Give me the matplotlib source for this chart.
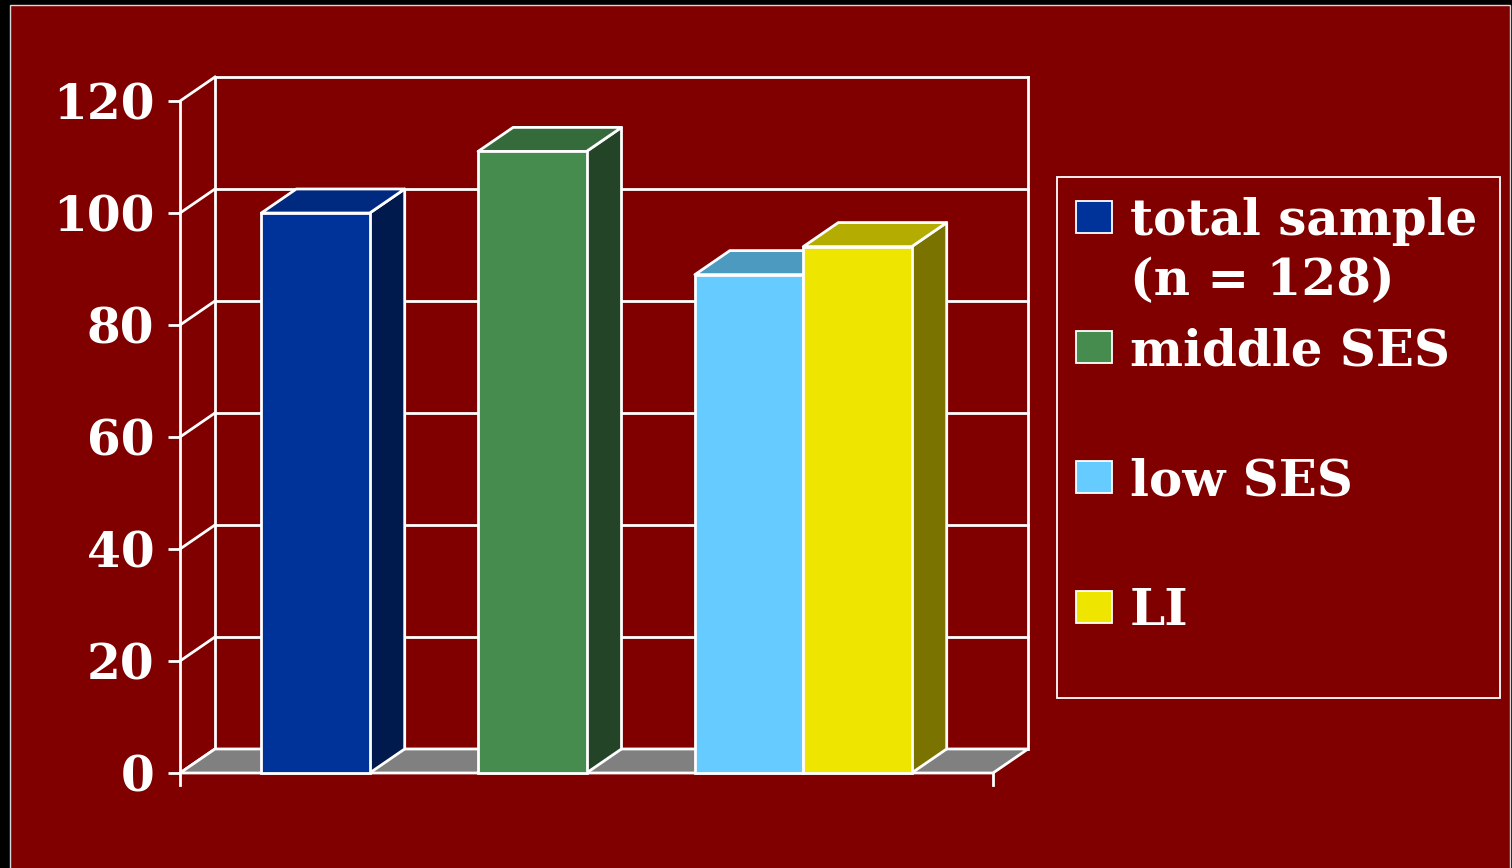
import matplotlib
matplotlib.use('Agg')
import matplotlib.pyplot as plt
from matplotlib.patches import Polygon, Rectangle

# data
series = ['total sample\n(n = 128)', 'middle SES', 'low SES', 'LI']
values = [100, 111, 89, 94]
yticks = [0, 20, 40, 60, 80, 100, 120]

front_colors = ['#003399', '#478C4F', '#66CCFF', '#EEE600']
top_colors = ['#002A80', '#356B3A', '#4C9ABF', '#B4AC00']
side_colors = ['#001A4D', '#244427', '#336680', '#7A7300']

BG = '#800000'
FONT = ['DejaVu Serif']

W, H = 1512, 868
fig = plt.figure(figsize=(W / 100, H / 100), dpi=100, facecolor='black')

# slide panel with thin light frame
fig.patches.append(Rectangle((10 / W, -0.01), 1500 / W, (H - 5) / H + 0.01,
                             transform=fig.transFigure, facecolor=BG,
                             edgecolor='#d8d8d8', lw=1.0, zorder=-5))

# axes: front axis x=180..993, back wall top at y=77, floor front at y=773
ax = fig.add_axes([180 / W, (H - 773) / H, 848 / W, 696 / H])
ax.set_zorder(2)
ax.set_facecolor('none')
XMAX = 7.5
px_x = 813 / XMAX
px_y = (773 - 102) / 120
DX = 35 / px_x
DY = 24 / px_y
ax.set_xlim(0, XMAX + DX)
ax.set_ylim(0, 120 + DY)
for s in ax.spines.values():
    s.set_visible(False)

LW = 2.0
white = 'white'

# back wall and left wall grid
for t in yticks:
    ax.plot([0, DX], [t, t + DY], color=white, lw=LW, zorder=1, clip_on=False)
    if t > 0:
        ax.plot([DX, XMAX + DX], [t + DY, t + DY], color=white, lw=LW,
                zorder=1, clip_on=False, solid_capstyle='projecting')
ax.plot([DX, DX], [DY, 120 + DY], color=white, lw=LW, zorder=1, clip_on=False)
ax.plot([XMAX + DX, XMAX + DX], [DY, 120 + DY], color=white, lw=LW, zorder=1,
        clip_on=False)

# floor
ax.add_patch(Polygon([(0, 0), (XMAX, 0), (XMAX + DX, DY), (DX, DY)],
                     closed=True, facecolor='#808080', edgecolor=white,
                     lw=LW, zorder=2, clip_on=False))

# front axis line
tick_len = 12 / px_y
ax.plot([0, 0], [-tick_len, 120], color=white, lw=LW, zorder=2, clip_on=False)
ax.plot([XMAX, XMAX], [-tick_len, 0], color=white, lw=LW, zorder=2, clip_on=False)

# bars (3 slots, last two share one)
slot = [0, 1, 2, 2.5]
bw = 1.0
for i, v in enumerate(values):
    x0 = 0.75 + 2 * slot[i]
    x1 = x0 + bw
    z = 3 + i
    ax.add_patch(Polygon([(x1, 0), (x1 + DX, DY), (x1 + DX, v + DY), (x1, v)],
                         closed=True, facecolor=side_colors[i], edgecolor=white,
                         lw=LW, zorder=z, joinstyle='round', clip_on=False))
    ax.add_patch(Polygon([(x0, v), (x1, v), (x1 + DX, v + DY), (x0 + DX, v + DY)],
                         closed=True, facecolor=top_colors[i], edgecolor=white,
                         lw=LW, zorder=z, joinstyle='round', clip_on=False))
    ax.add_patch(Rectangle((x0, 0), bw, v, facecolor=front_colors[i],
                           edgecolor=white, lw=LW, zorder=z + 0.5, clip_on=False))

ax.set_yticks(yticks)
ax.set_yticklabels([str(t) for t in yticks], family=FONT, weight='bold',
                   fontsize=35, color=white)
ax.tick_params(axis='y', length=8.6, width=LW, color=white, pad=10, direction='out')
ax.set_xticks([])

# legend
fig.patches.append(Rectangle((1057 / W, (H - 698) / H), 443 / W, 521 / H,
                             transform=fig.transFigure, facecolor='none',
                             edgecolor=white, lw=1.3, zorder=5))
baselines = [235, 365, 495, 625]
line_step = 60
for name, col, b in zip(series, front_colors, baselines):
    fig.patches.append(Rectangle((1076 / W, (H - b + 2) / H), 36 / W, 32 / H,
                                 transform=fig.transFigure, facecolor=col,
                                 edgecolor=white, lw=1.3, zorder=6))
    last = b + line_step * name.count('\n')
    fig.text(1130 / W, (H - last) / H, name, family=FONT, weight='bold',
             fontsize=36, color=white, va='baseline', ha='left',
             linespacing=1.3, zorder=7)

fig.savefig('out.png', dpi=100, facecolor='black')
